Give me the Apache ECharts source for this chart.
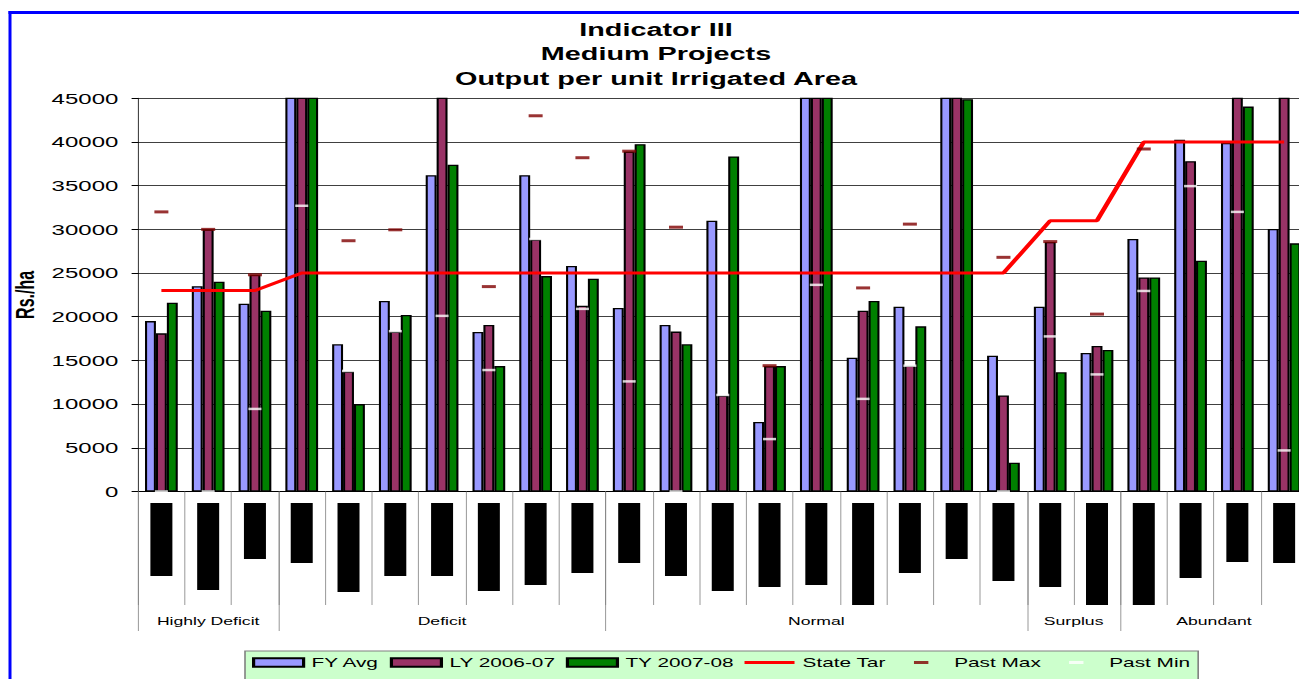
<!DOCTYPE html>
<html>
<head>
<meta charset="utf-8">
<title>Indicator III - Medium Projects</title>
<script src="https://cdn.jsdelivr.net/npm/echarts@6.0.0/dist/echarts.min.js"></script>
<style>
  html, body { margin: 0; padding: 0; background: #fff; overflow: hidden; width: 1299px; height: 679px; }
  /* the chart is laid out narrow and stretched sideways, giving the wide lettering of the sheet */
  #chart { width: 820px; height: 679px; transform: scaleX(1.6); transform-origin: 0 0; }
</style>
</head>
<body>
<div id="chart"></div>
<script>
// ---- data ---------------------------------------------------------------
const categories = [
  'Project 01', 'Project 02', 'Project 03', 'Project 04', 'Project 05',
  'Project 06', 'Project 07', 'Project 08', 'Project 09', 'Project 10',
  'Project 11', 'Project 12', 'Project 13', 'Project 14', 'Project 15',
  'Project 16', 'Project 17', 'Project 18', 'Project 19', 'Project 20',
  'Project 21', 'Project 22', 'Project 23', 'Project 24', 'Project 25'
];
const groupNames = ['Highly Deficit', 'Deficit', 'Normal', 'Surplus', 'Abundant'];
const groupSizes = [3, 7, 9, 2, 4];

// Rs./ha
const fyAvg = [19500, 23500, 21500, 47000, 16850, 21800, 36200, 18250, 36200, 25800,
               21000, 19050, 31000, 7950, 47000, 15300, 21150, 47000, 15550, 21150,
               15850, 28900, 40250, 39900, 30050];
const ly0607 = [18100, 30000, 24800, 47000, 13750, 18300, 47000, 19050, 28850, 21250,
                38900, 18300, 11000, 14350, 47000, 20700, 14400, 47000, 11000, 28550,
                16650, 24500, 37800, 47000, 47000];
const ty0708 = [21600, 24000, 20700, 47000, 10000, 20200, 37400, 14350, 24650, 24350,
                39750, 16850, 38350, 14350, 47000, 21800, 18900, 44900, 3300, 13650,
                16200, 24500, 26400, 44050, 28400];
const stateTarget = [23000, 23000, 23000, 25000, 25000, 25000, 25000, 25000, 25000, 25000,
                     25000, 25000, 25000, 25000, 25000, 25000, 25000, 25000, 25000, 31000,
                     31000, 40000, 40000, 40000, 40000];
const pastMax = [32000, 30000, 24800, null, 28700, 29950, null, 23450, 43000, 38200,
                 38950, 30250, null, 14400, null, 23300, 30600, null, 26800, 28600,
                 20300, 39200, null, null, null];
const pastMin = [0, 0, 9450, 32700, 13800, 18350, 20100, 13900, 28900, 20900,
                 12600, 0, 11050, 6000, 23650, 10600, 14400, null, 0, 17750,
                 13400, 22950, 34950, 32000, 4700];

const yMin = 0, yMax = 45000, yStep = 5000;

// ---- styling ------------------------------------------------------------
const SX = 1.6;                 // sideways stretch applied to #chart
const px = v => v / SX;         // screen-width -> chart units
const FONT = "Arial, 'Liberation Sans', sans-serif";

// project names are blacked out; length of each black bar
const nameBarLength = [73, 87, 56, 60, 89, 73, 73, 88, 82, 70, 60, 73, 88, 84, 82,
                       102, 70, 56, 78, 84, 102, 102, 75, 59, 60];

const groupEdges = [0];
groupSizes.forEach(n => groupEdges.push(groupEdges[groupEdges.length - 1] + n));
const groupCenters = groupNames.map((_, i) => (groupEdges[i] + groupEdges[i + 1]) / 2);

const nameRich = {};
nameBarLength.forEach((len, i) => {
  nameRich['b' + i] = {
    width: len, height: px(22), backgroundColor: '#000', color: '#000',
    fontSize: 9, fontFamily: FONT, align: 'center', overflow: 'truncate'
  };
});

// legend glyphs drawn inside a fixed slot (empty moves set the slot size)
const LW = 31.25, LH = 8.5;
function slotBar(w, h) {
  const x0 = LW / 2 - w / 2, x1 = LW / 2 + w / 2, y0 = LH / 2 - h / 2, y1 = LH / 2 + h / 2;
  return 'path://M0,0M' + LW + ',' + LH +
    'M' + x0 + ',' + y0 + 'L' + x1 + ',' + y0 + 'L' + x1 + ',' + y1 + 'L' + x0 + ',' + y1 + 'Z';
}
const dashIcon = slotBar(9, 3);
const lineIcon = slotBar(LW, 3);

const barBorder = { borderColor: '#000', borderWidth: 1.3 };

const chart = echarts.init(document.getElementById('chart'), null, { renderer: 'svg' });

chart.setOption({
  animation: false,
  backgroundColor: '#fff',
  title: {
    text: 'Indicator III\nMedium Projects\nOutput per unit Irrigated Area',
    left: 'center', top: 12,
    textStyle: { fontSize: 18, fontWeight: 'bold', lineHeight: 24.5, color: '#000', fontFamily: FONT }
  },
  grid: { left: px(138), right: 2.8, top: 98.3, bottom: 187.5,
          containLabel: false, outerBoundsMode: 'none' },
  legend: {
    left: px(245), top: 651,
    padding: [5, 5, 30, px(7)],
    backgroundColor: '#CCFFCC', borderColor: '#808080', borderWidth: 1,
    itemWidth: LW, itemHeight: LH, itemGap: 6.5,
    selectedMode: false,
    textStyle: { fontSize: 13, color: '#000', fontFamily: FONT },
    data: [
      { name: 'FY Avg', icon: 'rect' },
      { name: 'LY 2006-07', icon: 'rect' },
      { name: 'TY 2007-08', icon: 'rect' },
      { name: 'State Tar', icon: lineIcon },
      { name: 'Past Max', icon: dashIcon },
      { name: 'Past Min', icon: dashIcon }
    ]
  },
  xAxis: [
    {
      type: 'category', data: categories, position: 'bottom',
      axisLine: { show: true, lineStyle: { color: '#000', width: 1 } },
      axisTick: { show: true, interval: 0, length: 113.5, lineStyle: { color: '#808080', width: px(1) } },
      axisLabel: {
        interval: 0, rotate: 90, margin: 11.5,
        formatter: (v, i) => '{b' + i + '|' + v + '}',
        rich: nameRich
      },
      splitLine: { show: false }
    },
    {
      type: 'value', min: 0, max: categories.length, position: 'bottom',
      axisLine: { show: false },
      axisTick: { show: true, customValues: groupEdges, length: 139.5,
                  lineStyle: { color: '#808080', width: px(1) } },
      axisLabel: {
        customValues: groupCenters, margin: 124, fontSize: 11, color: '#000', fontFamily: FONT,
        formatter: v => groupNames[groupCenters.indexOf(v)] || ''
      },
      splitLine: { show: false }
    }
  ],
  yAxis: {
    type: 'value', min: yMin, max: yMax, interval: yStep,
    name: 'Rs./ha', nameLocation: 'middle', nameGap: 62, nameMoveOverlap: false,
    nameTextStyle: { fontSize: 16, fontWeight: 'bold', color: '#000', fontFamily: FONT },
    axisLine: { show: true, lineStyle: { color: '#000', width: px(1) } },
    axisTick: { show: true, length: 4, lineStyle: { color: '#000', width: 1 } },
    axisLabel: { margin: 12.3, fontSize: 15, color: '#000', fontFamily: FONT,
                 formatter: v => String(v) },
    splitLine: { show: true, lineStyle: { color: '#404040', width: 1 } }
  },
  series: [
    { name: 'FY Avg', type: 'bar', data: fyAvg, barGap: '0%', barCategoryGap: '30%',
      itemStyle: Object.assign({ color: '#9999FF' }, barBorder) },
    { name: 'LY 2006-07', type: 'bar', data: ly0607, barGap: '0%', barCategoryGap: '30%',
      itemStyle: Object.assign({ color: '#993366' }, barBorder) },
    { name: 'TY 2007-08', type: 'bar', data: ty0708, barGap: '0%', barCategoryGap: '30%',
      itemStyle: Object.assign({ color: '#008000' }, barBorder) },
    { name: 'State Tar', type: 'line', data: stateTarget, symbol: 'none', z: 3,
      lineStyle: { color: '#FF0000', width: 3 }, itemStyle: { color: '#FF0000' } },
    { name: 'Past Max', type: 'scatter', data: pastMax, symbol: 'rect',
      symbolSize: [px(14), 3], z: 4, itemStyle: { color: '#800000' } },
    { name: 'Past Min', type: 'scatter', data: pastMin, symbol: 'rect',
      symbolSize: [px(13), 2.5], z: 4, itemStyle: { color: '#FFFFFF' } }
  ],
  graphic: [
    { type: 'line', silent: true, z: 10,
      shape: { x1: px(10), y1: 11, x2: px(10), y2: 700 },
      style: { stroke: '#0000FF', lineWidth: px(3) } },
    { type: 'line', silent: true, z: 10,
      shape: { x1: px(8.5), y1: 12.5, x2: 840, y2: 12.5 },
      style: { stroke: '#0000FF', lineWidth: 3 } }
  ]
});
</script>
</body>
</html>
